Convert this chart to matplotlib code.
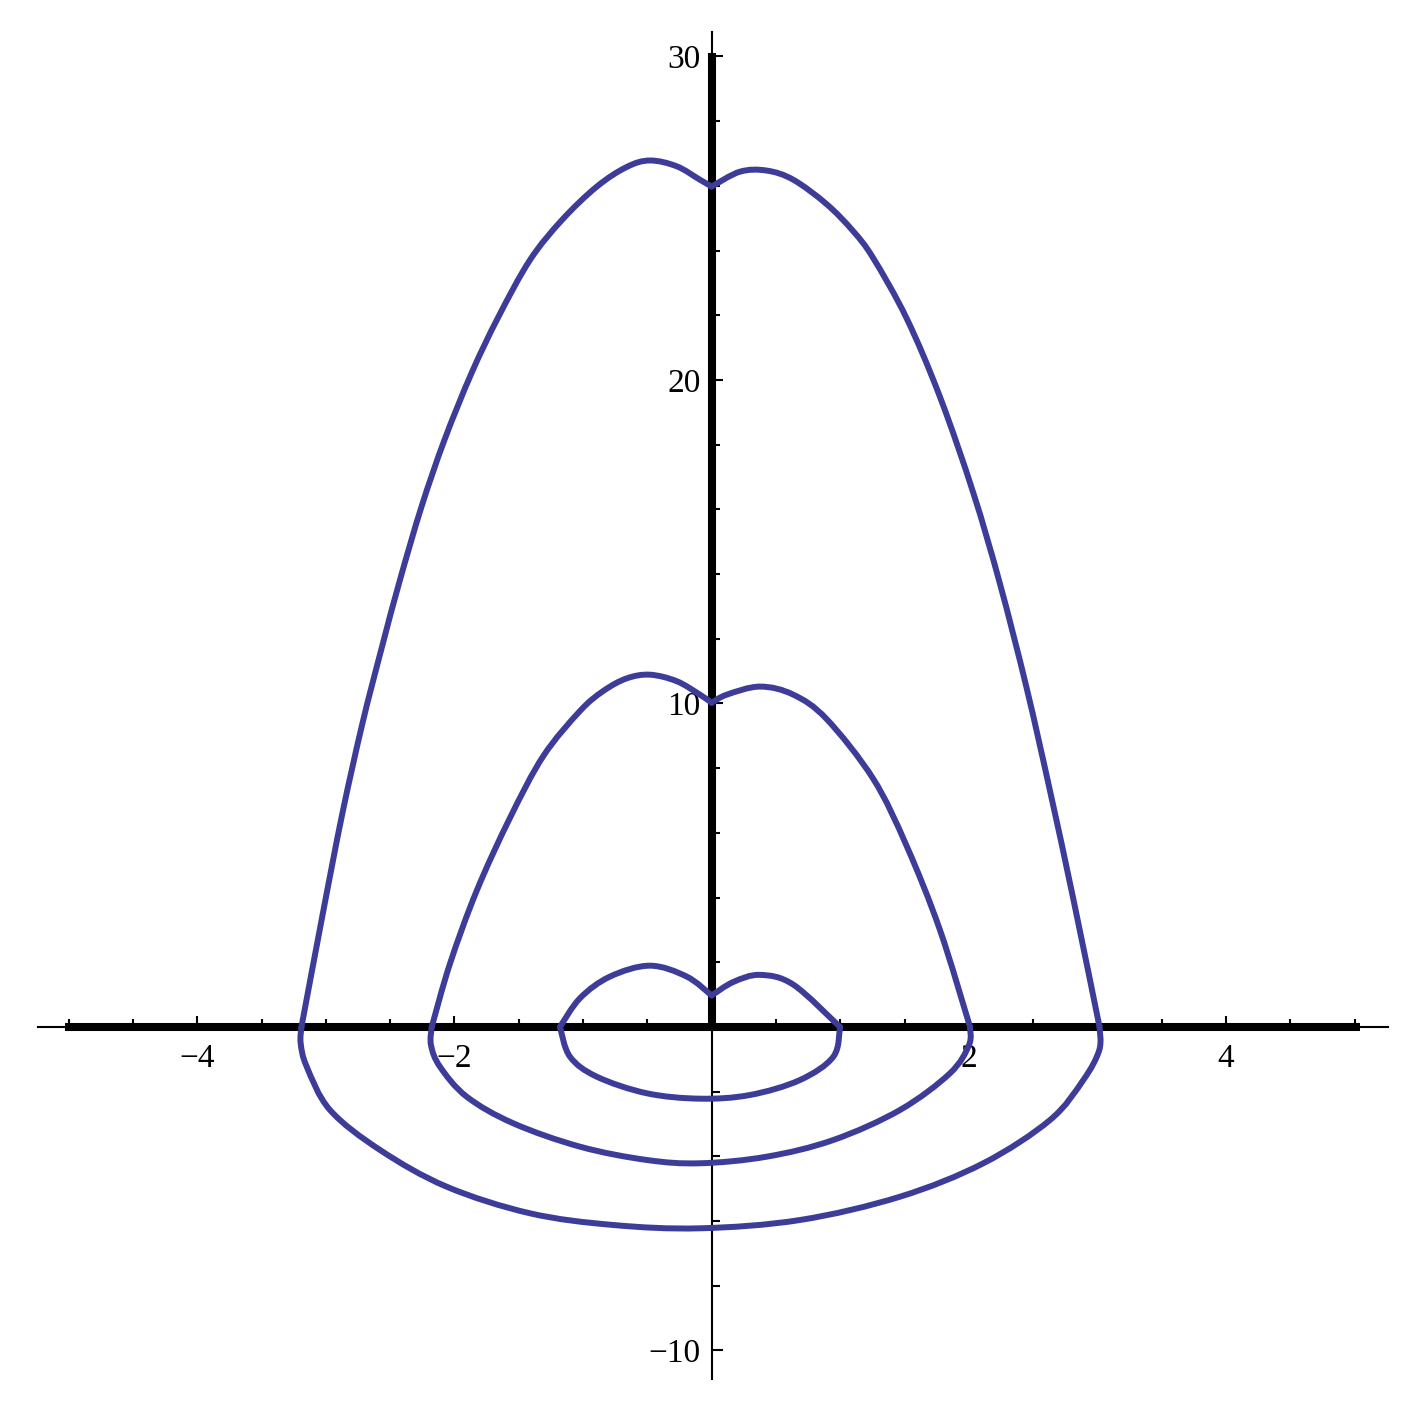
import numpy as np
import matplotlib.pyplot as plt
from matplotlib.path import Path
from matplotlib.patches import PathPatch

# точки кривых; каждая кривая разбита на 3 куска:
# левая верхняя ветвь, правая верхняя ветвь и нижняя дуга
outer_left_x = [-3.190, -3.023, -2.871, -2.715, -2.564, -2.424, -2.257, -2.078, -1.867,
                -1.659, -1.413, -1.164, -0.894, -0.661, -0.480, -0.272, -0.091, 0.0]
outer_left_y = [0.0, 3.524, 6.615, 9.397, 11.747, 13.818, 16.074, 18.145, 20.216,
                21.947, 23.709, 24.946, 25.975, 26.584, 26.785, 26.606, 26.189, 25.98]
outer_right_x = [0.0, 0.220, 0.428, 0.635, 0.894, 1.101, 1.257, 1.516, 1.775, 2.034,
                 2.242, 2.449, 2.631, 2.812, 3.016]
outer_right_y = [25.98, 26.439, 26.473, 26.189, 25.434, 24.597, 23.762, 21.904, 19.478,
                 16.513, 13.694, 10.479, 7.295, 3.957, 0.0]
outer_low_x = [3.016, 3.014, 2.890, 2.631, 2.112, 1.464, 0.687, -0.091, -0.765, -1.413,
               -2.061, -2.579, -2.968, -3.149, -3.196, -3.190]
outer_low_y = [0.0, -0.711, -1.638, -2.875, -4.213, -5.246, -5.966, -6.223, -6.121, -5.759,
               -4.937, -3.802, -2.566, -1.227, -0.504, 0.0]

middle_left_x = [-2.177, -2.035, -1.827, -1.568, -1.309, -1.024, -0.843, -0.661, -0.480,
                 -0.272, -0.091, 0.0]
middle_left_y = [0.0, 1.957, 4.213, 6.467, 8.377, 9.768, 10.386, 10.776, 10.890,
                 10.689, 10.272, 10.02]
middle_right_x = [0.0, 0.117, 0.376, 0.635, 0.894, 1.257, 1.516, 1.775, 2.009]
middle_right_y = [10.02, 10.272, 10.522, 10.272, 9.518, 7.666, 5.595, 2.998, 0.0]
middle_low_x = [2.009, 2.001, 1.853, 1.464, 0.946, 0.428, -0.091, -0.505, -1.024, -1.543,
                -1.905, -2.113, -2.183, -2.177]
middle_low_y = [0.0, -0.556, -1.431, -2.566, -3.493, -4.009, -4.213, -4.111, -3.700, -2.977,
                -2.155, -1.227, -0.556, 0.0]

inner_left_x = [-1.180, -1.024, -0.791, -0.480, -0.194, 0.0]
inner_left_y = [0.0, 0.890, 1.558, 1.895, 1.558, 0.974]
inner_right_x = [0.0, 0.168, 0.376, 0.635, 0.998]
inner_right_y = [0.974, 1.391, 1.611, 1.308, 0.0]
inner_low_x = [0.998, 0.946, 0.687, 0.298, -0.091, -0.505, -0.894, -1.102, -1.180]
inner_low_y = [0.0, -0.918, -1.638, -2.102, -2.216, -2.049, -1.536, -0.918, 0.0]

# толстые чёрные линии вдоль осей
thick_x = [-5.03, 5.04]
thick_y = [0.0, 30.1]

x_ticks = [-4, -2, 2, 4]
x_labels = ['\u22124', '\u22122', '2', '4']
y_ticks = [-10, 10, 20, 30]
y_labels = ['\u221210', '10', '20', '30']

curve_color = '#3d3d99'


def smooth_path(xs, ys):
    # гладкая линия через заданные точки (Catmull-Rom -> кубические Безье)
    p = np.column_stack([xs, ys])
    ext = np.vstack([p[0], p, p[-1]])
    verts = [p[0]]
    codes = [Path.MOVETO]
    for i in range(1, len(ext) - 2):
        c1 = ext[i] + (ext[i + 1] - ext[i - 1]) / 6
        c2 = ext[i + 1] - (ext[i + 2] - ext[i]) / 6
        verts += [c1, c2, ext[i + 1]]
        codes += [Path.CURVE4] * 3
    return Path(verts, codes)


fig = plt.figure(figsize=(14.19, 14.17), dpi=100)
ax = fig.add_axes([0, 0, 1, 1])
ax.set_xlim(-5.534, 5.500)
ax.set_ylim(-12.056, 31.746)

ax.spines['top'].set_visible(False)
ax.spines['right'].set_visible(False)
ax.spines['left'].set_position(('data', 0))
ax.spines['bottom'].set_position(('data', 0))
ax.spines['left'].set_bounds(-10.87, 30.77)
ax.spines['bottom'].set_bounds(-5.24, 5.26)
ax.spines['left'].set_linewidth(1.5)
ax.spines['bottom'].set_linewidth(1.5)

ax.plot(thick_x, [0, 0], color='black', lw=5.8, solid_capstyle='butt', zorder=2)
ax.plot([0, 0], thick_y, color='black', lw=5.8, solid_capstyle='butt', zorder=2)

pieces = [(outer_left_x, outer_left_y), (outer_right_x, outer_right_y), (outer_low_x, outer_low_y),
          (middle_left_x, middle_left_y), (middle_right_x, middle_right_y), (middle_low_x, middle_low_y),
          (inner_left_x, inner_left_y), (inner_right_x, inner_right_y), (inner_low_x, inner_low_y)]
for xs, ys in pieces:
    patch = PathPatch(smooth_path(xs, ys), fill=False, edgecolor=curve_color, lw=4.3,
                      capstyle='round', joinstyle='round', zorder=3)
    ax.add_patch(patch)

ax.set_xticks(x_ticks)
ax.set_xticklabels(x_labels)
ax.set_xticks(np.arange(-5, 5.01, 0.5), minor=True)
ax.set_yticks(y_ticks)
ax.set_yticklabels(y_labels)
ax.set_yticks(np.arange(-10, 30.01, 2), minor=True)

ax.tick_params(which='both', direction='in', width=1.5, colors='black')
ax.tick_params(which='major', length=8)
ax.tick_params(which='minor', length=5.5)
ax.tick_params(axis='x', which='major', pad=12)
ax.tick_params(axis='y', which='major', pad=8)
for lab in ax.get_xticklabels() + ax.get_yticklabels():
    lab.set_fontfamily('Liberation Serif')
    lab.set_fontsize(24)

fig.savefig('out.png', dpi=100, facecolor='white')
